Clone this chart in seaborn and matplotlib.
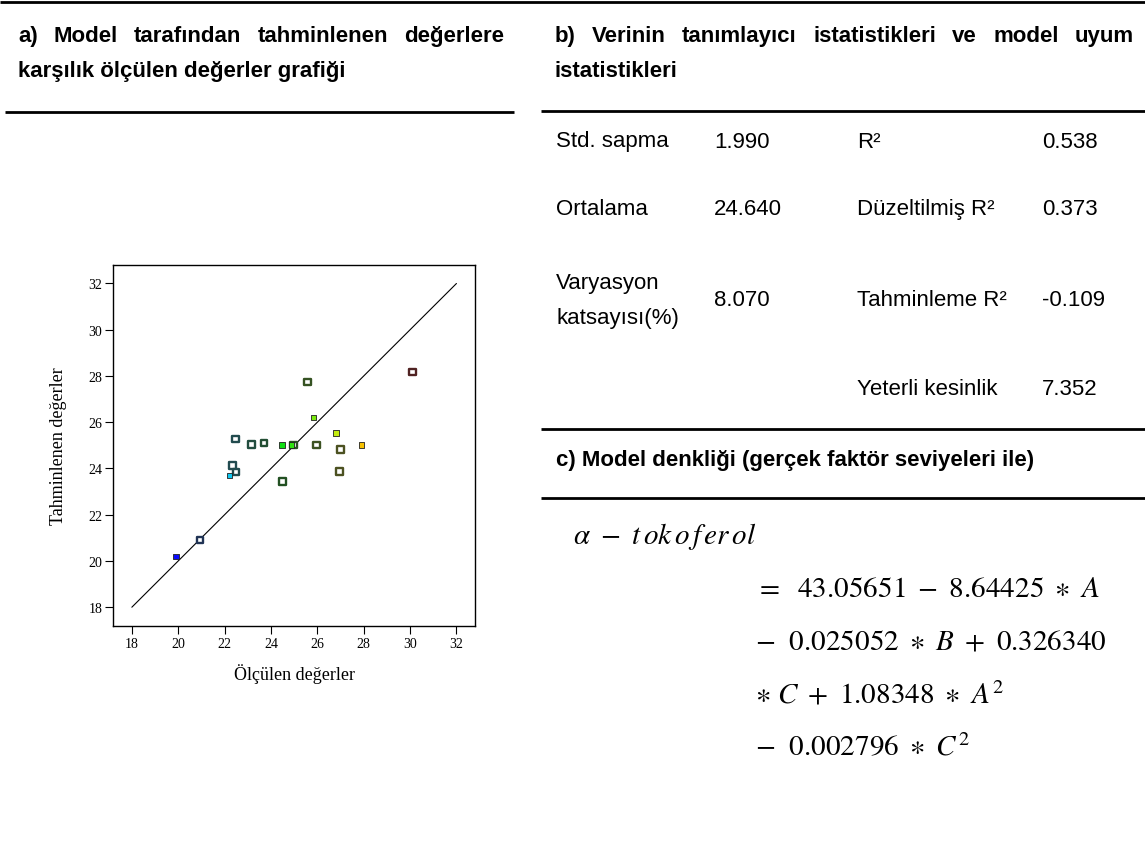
import matplotlib
matplotlib.use("Agg")
import matplotlib.pyplot as plt
from matplotlib.colors import LinearSegmentedColormap, Normalize, to_rgb
from matplotlib.lines import Line2D
import numpy as np
import pandas as pd
import seaborn as sns

# ---- data -------------------------------------------------------------
olculen = [19.90, 20.94, 22.21, 22.35, 22.49, 22.47, 23.17, 23.70, 24.48, 24.50,
           24.89, 24.96, 25.57, 25.85, 25.97, 26.80, 26.99, 26.97, 27.92, 30.11]
tahmin = [20.18, 20.90, 23.69, 24.13, 23.85, 25.27, 25.03, 25.10, 25.01, 23.43,
          25.01, 25.01, 27.74, 26.19, 25.01, 25.53, 24.82, 23.88, 25.01, 28.17]
dolu = [True, False, True, False, False, False, False, False, True, False,
        True, False, False, True, False, True, False, False, True, False]

eksen_ticks = [18, 20, 22, 24, 26, 28, 30, 32]
diyagonal = [18, 32]

baslik_a = ["a) Model tarafından tahminlenen değerlere",
            "karşılık ölçülen değerler grafiği"]
baslik_b = ["b) Verinin tanımlayıcı istatistikleri ve model uyum",
            "istatistikleri"]
baslik_c = "c) Model denkliği (gerçek faktör seviyeleri ile)"

istat_ad_sol = ["Std. sapma", "Ortalama", "Varyasyon\nkatsayısı(%)"]
istat_deger_sol = ["1.990", "24.640", "8.070"]
istat_ad_sag = ["R²", "Düzeltilmiş R²", "Tahminleme R²", "Yeterli kesinlik"]
istat_deger_sag = ["0.538", "0.373", "-0.109", "7.352"]

denklem_bas = r"$\alpha\ -\ t\,ok\,o\,f\,er\,ol$"
denklem = [r"$=\ \ 43.05651\ -\ 8.64425\ \ast\ A$",
           r"$-\ \ 0.025052\ \ast\ B\ +\ 0.326340$",
           r"$\ast\ C\ +\ 1.08348\ \ast\ A^{2}$",
           r"$-\ \ 0.002796\ \ast\ C^{2}$"]

# ---- figure -----------------------------------------------------------
W, H = 1145, 845
sns.set_theme(style="white")
plt.rcParams["font.family"] = ["Liberation Sans", "DejaVu Sans"]
plt.rcParams["mathtext.fontset"] = "stix"

fig = plt.figure(figsize=(W / 100, H / 100), dpi=100)
fig.patch.set_facecolor("white")
renderer = fig.canvas.get_renderer()


def fx(px):
    return px / W


def fy(py):
    return 1 - py / H


def rule(y, x0, x1, lw=2.0):
    fig.add_artist(Line2D([fx(x0), fx(x1)], [fy(y), fy(y)], color="black",
                          lw=lw, transform=fig.transFigure,
                          solid_capstyle="butt"))


def justified(line, x0, x1, y, **kw):
    words = line.split()
    texts = [fig.text(0, fy(y), w, va="baseline", ha="left", **kw) for w in words]
    widths = [t.get_window_extent(renderer).width for t in texts]
    gap = ((x1 - x0) - sum(widths)) / (len(words) - 1)
    x = x0
    for t, w in zip(texts, widths):
        t.set_x(fx(x))
        x += w + gap


title_kw = dict(fontsize=16, fontweight="bold", color="black")
body_kw = dict(fontsize=16, color="black")
eq_kw = dict(fontsize=21, color="black")

# horizontal rules
rule(3, 0, W)
rule(113, 5, 514)
rule(112, 541, W)
rule(430, 541, W)
rule(499, 541, W)

# panel a title
justified(baslik_a[0], 18, 504, 42, **title_kw)
fig.text(fx(18), fy(77), baslik_a[1], va="baseline", ha="left", **title_kw)

# panel b title
justified(baslik_b[0], 555, 1134, 42, **title_kw)
fig.text(fx(555), fy(77), baslik_b[1], va="baseline", ha="left", **title_kw)

# statistics table
row_y = [142, 210, 301]
for name, val, y in zip(istat_ad_sol, istat_deger_sol, row_y):
    fig.text(fx(556), fy(y), name, va="center", ha="left", linespacing=1.85, **body_kw)
    fig.text(fx(714), fy(y), val, va="center", ha="left", **body_kw)
row_y2 = [142, 210, 301, 390]
for name, val, y in zip(istat_ad_sag, istat_deger_sag, row_y2):
    fig.text(fx(857), fy(y), name, va="center", ha="left", **body_kw)
    fig.text(fx(1042), fy(y), val, va="center", ha="left", **body_kw)

# panel c: model equation
fig.text(fx(556), fy(461), baslik_c, va="center", ha="left", **title_kw)
fig.text(fx(573), fy(537), denklem_bas, va="center", ha="left", **eq_kw)
for line, y in zip(denklem, [589, 642, 695, 748]):
    fig.text(fx(755), fy(y), line, va="center", ha="left", **eq_kw)

# ---- scatter panel ----------------------------------------------------
ax_l, ax_r, ax_t, ax_b = 113.3, 475, 266, 626.7
ax = fig.add_axes([fx(ax_l), fy(ax_b), (ax_r - ax_l) / W, (ax_b - ax_t) / H])
ax.set_facecolor("none")

df = pd.DataFrame({"Ölçülen": olculen, "Tahmin": tahmin, "dolu": dolu})
renk = LinearSegmentedColormap.from_list(
    "olcum",
    [(0.0, "#0a0aff"), (0.225, "#10c8f0"), (0.45, "#10e010"),
     (0.67, "#c0f010"), (0.78, "#f8c800"), (1.0, "#e01010")])
norm = Normalize(min(olculen), max(olculen))

sns.lineplot(x=diyagonal, y=diyagonal, color="black", lw=0.8, ax=ax)

acik = df[~df["dolu"]]
kenar = [tuple(0.12 + 0.22 * np.array(to_rgb(renk(norm(v))))) for v in acik["Ölçülen"]]
sns.scatterplot(data=acik, x="Ölçülen", y="Tahmin", marker="s", s=4.8 ** 2,
                color="white", edgecolor=kenar, linewidth=1.7, legend=False,
                ax=ax, zorder=3)

dolu_df = df[df["dolu"]]
sns.scatterplot(data=dolu_df, x="Ölçülen", y="Tahmin", hue="Ölçülen",
                palette=renk, hue_norm=norm, marker="s", s=3.8 ** 2,
                edgecolor="#202020", linewidth=0.6, legend=False, ax=ax, zorder=4)

lim = (17.2, 32.8)
ax.set_xlim(lim)
ax.set_ylim(lim)
ax.set_xticks(eksen_ticks)
ax.set_yticks(eksen_ticks)
serif = ["Liberation Serif", "DejaVu Serif"]
for lab in ax.get_xticklabels() + ax.get_yticklabels():
    lab.set_family(serif)
    lab.set_fontsize(10)
ax.tick_params(axis="both", which="major", direction="out", length=6,
               width=0.8, color="black", labelcolor="black", pad=2,
               bottom=True, left=True)
for sp in ax.spines.values():
    sp.set_visible(True)
    sp.set_color("black")
    sp.set_linewidth(1.0)

ax.set_xlabel("Ölçülen değerler", family=serif, fontsize=13, color="black")
ax.set_ylabel("Tahminlenen değerler", family=serif, fontsize=13, color="black")
ax.xaxis.set_label_coords(0.5, -0.103)
ax.yaxis.set_label_coords(-0.128, 0.5)

fig.savefig("out.png", dpi=100, facecolor="white")
